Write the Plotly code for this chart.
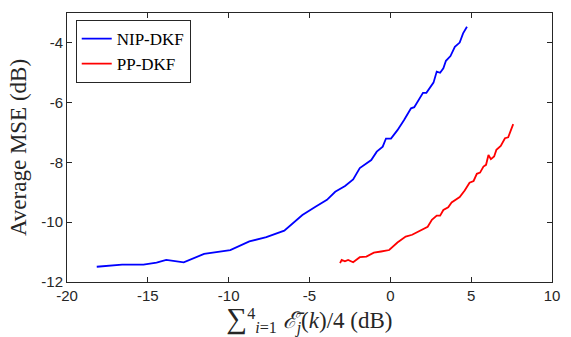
import plotly.graph_objects as go

blue_x = [-18.16, -16.59, -15.27, -14.46, -13.86, -12.78, -11.52, -9.90, -8.72, -7.67,
          -6.56, -5.44, -4.63, -3.92, -3.41, -2.80, -2.30, -1.89, -1.18, -0.84,
          -0.47, -0.27, 0.04, 0.44, 0.85, 1.28, 1.48, 1.76, 2.02, 2.23,
          2.67, 2.87, 3.08, 3.28, 3.44, 3.72, 3.99, 4.29, 4.50, 4.74]
blue_y = [-11.49, -11.42, -11.42, -11.35, -11.26, -11.34, -11.06, -10.93, -10.64, -10.50,
          -10.28, -9.76, -9.48, -9.25, -8.98, -8.79, -8.57, -8.19, -7.92, -7.64,
          -7.47, -7.20, -7.20, -6.92, -6.58, -6.19, -6.15, -5.91, -5.67, -5.67,
          -5.33, -4.96, -5.00, -4.85, -4.60, -4.44, -4.13, -3.99, -3.68, -3.46]

red_x = [-3.11, -3.01, -2.81, -2.61, -2.30, -1.89, -1.48, -1.02, -0.57, -0.07,
         0.44, 0.95, 1.35, 1.86, 2.31, 2.57, 2.87, 3.08, 3.28, 3.58,
         3.79, 4.29, 4.60, 4.90, 5.15, 5.35, 5.55, 5.76, 5.92, 6.07,
         6.22, 6.42, 6.56, 6.83, 7.09, 7.29, 7.60]
red_y = [-11.37, -11.26, -11.31, -11.26, -11.34, -11.17, -11.15, -11.02, -10.98, -10.93,
         -10.68, -10.48, -10.42, -10.28, -10.15, -9.92, -9.78, -9.78, -9.59, -9.50,
         -9.34, -9.16, -8.94, -8.68, -8.62, -8.38, -8.34, -8.14, -8.08, -7.75,
         -7.89, -7.80, -7.58, -7.45, -7.19, -7.16, -6.72]

x_ticks = [-20, -15, -10, -5, 0, 5, 10]
y_ticks = [-12, -10, -8, -6, -4]

fig = go.Figure()
fig.add_trace(go.Scatter(x=blue_x, y=blue_y, mode="lines", name="NIP-DKF",
                         line=dict(color="#0000ff", width=1.8)))
fig.add_trace(go.Scatter(x=red_x, y=red_y, mode="lines", name="PP-DKF",
                         line=dict(color="#ff0000", width=1.8)))

axis_common = dict(showgrid=False, zeroline=False, showline=True, mirror="ticks",
                   linecolor="#262626", linewidth=1, ticks="inside", ticklen=5,
                   tickcolor="#262626", tickwidth=1,
                   tickfont=dict(family="Liberation Sans, Arial", size=15, color="#262626"))

serif = "Liberation Serif, DejaVu Serif"
x_title = ('<span style="font-size:29px">∑</span><sup>4</sup><sub><i>i</i>=1</sub> '
           '<i>ℰ̄</i><sub><i>j</i></sub>(<i>k</i>)/4 (dB)')

fig.update_xaxes(range=[-20, 10], tickvals=x_ticks, ticktext=[str(v) for v in x_ticks],
                 title=dict(text=x_title,
                            font=dict(family=serif, size=23, color="#262626"),
                            standoff=0),
                 **axis_common)
fig.update_yaxes(range=[-12, -3], tickvals=y_ticks, ticktext=[str(v) for v in y_ticks],
                 title=dict(text="Average MSE (dB)",
                            font=dict(family=serif, size=23, color="#262626"),
                            standoff=8),
                 **axis_common)

fig.update_layout(
    width=571, height=337,
    margin=dict(l=67, r=11, t=13, b=55),
    paper_bgcolor="white", plot_bgcolor="white",
    showlegend=True,
    legend=dict(x=0.018, y=0.974, xanchor="left", yanchor="top",
                bgcolor="white", bordercolor="#262626", borderwidth=1,
                font=dict(family=serif, size=17, color="#000000"),
                tracegroupgap=0, itemwidth=30),
)

fig.write_html("out.html")
